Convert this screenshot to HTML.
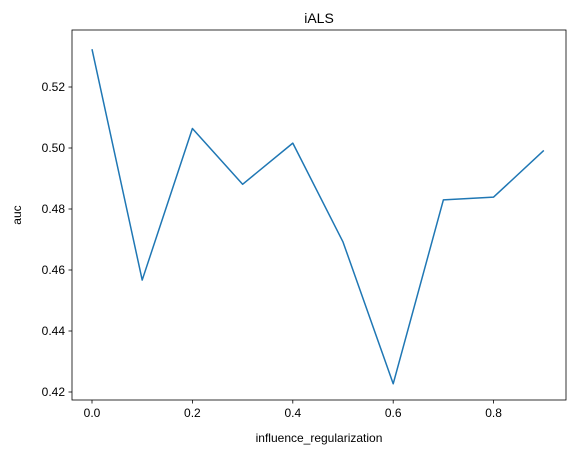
<!DOCTYPE html>
<html><head><meta charset="utf-8"><style>
body{margin:0;background:#fff;}
svg{display:block;font-family:"Liberation Sans","DejaVu Sans",sans-serif;}
</style></head><body>
<svg width="576" height="455" viewBox="0 0 576 455">
<rect x="0" y="0" width="576" height="455" fill="#fff"/>
<text x="319" y="23" text-anchor="middle" font-size="14">iALS</text>
<g id="ticks"></g>
<path id="line" fill="none" stroke="#1f77b4" stroke-width="1.5" stroke-linejoin="round"/>
<rect x="72" y="30" width="494" height="370" fill="none" stroke="#000" stroke-width="0.8"/>
<text x="319" y="442" text-anchor="middle" font-size="12">influence_regularization</text>
<text x="21" y="215" text-anchor="middle" font-size="12" transform="rotate(-90 21 215)">auc</text>
</svg>
<script>
const xValues=[0.0,0.1,0.2,0.3,0.4,0.5,0.6,0.7,0.8,0.9];
const aucValues=[0.5324,0.4567,0.5064,0.4881,0.5016,0.4692,0.4227,0.4830,0.4839,0.4992];
const xTicks=[0.0,0.2,0.4,0.6,0.8];
const xTickLabels=["0.0","0.2","0.4","0.6","0.8"];
const yTicks=[0.42,0.44,0.46,0.48,0.50,0.52];
const yTickLabels=["0.42","0.44","0.46","0.48","0.50","0.52"];
const X=v=>92+v*502;
const Y=v=>392-(v-0.42)/0.02*61;
const ns="http://www.w3.org/2000/svg";
const g=document.getElementById('ticks');
function mk(t,a){const e=document.createElementNS(ns,t);for(const k in a)e.setAttribute(k,a[k]);g.appendChild(e);return e;}
xTicks.forEach((v,i)=>{
 const l=mk('line',{x1:X(v),x2:X(v),y1:400,y2:403.5,stroke:'#000','stroke-width':0.8});
 
 
 const t=mk('text',{x:X(v),y:417,'text-anchor':'middle','font-size':12});
 t.textContent=xTickLabels[i];
 
 
});
yTicks.forEach((v,i)=>{
 const l=mk('line',{x1:68.5,x2:72,y1:Y(v),y2:Y(v),stroke:'#000','stroke-width':0.8});
 
 
 const t=mk('text',{x:65,y:Y(v)+4,'text-anchor':'end','font-size':12});
 t.textContent=yTickLabels[i];
 
 
});
document.getElementById('line').setAttribute('d',xValues.map((x,i)=>(i?'L':'M')+X(x)+','+Y(aucValues[i])).join(' '));
</script>
</body></html>
